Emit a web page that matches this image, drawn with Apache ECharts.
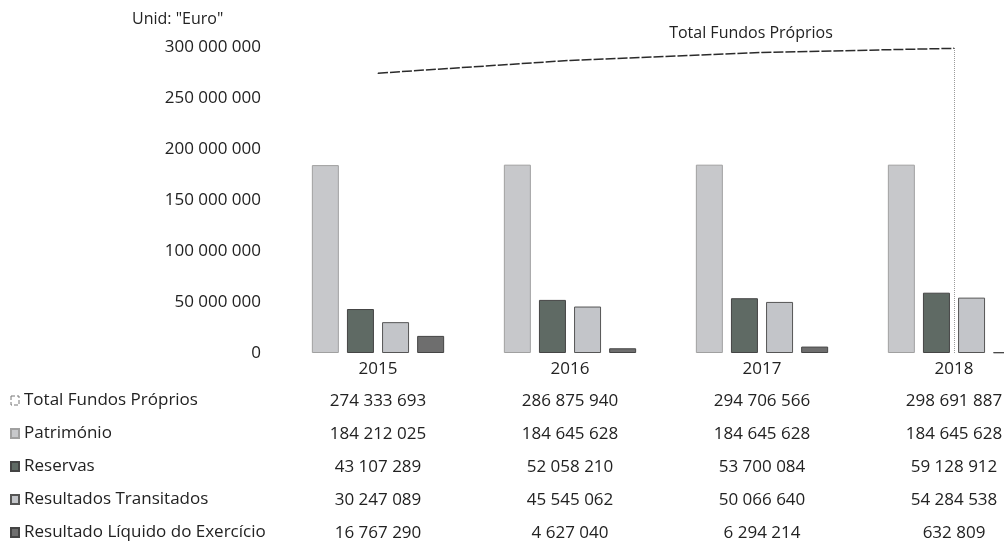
<!DOCTYPE html>
<html>
<head>
<meta charset="utf-8">
<script src="https://cdn.jsdelivr.net/npm/echarts@6/dist/echarts.min.js"></script>
<style>
html,body{margin:0;padding:0;background:#fff;}
#chart{width:1004px;height:544px;}
</style>
</head>
<body>
<div id="chart"></div>
<script>
var categories = ['2015', '2016', '2017', '2018'];
var seriesNames = ['Total Fundos Próprios', 'Património', 'Reservas', 'Resultados Transitados', 'Resultado Líquido do Exercício'];
var totalFundos = [274333693, 286875940, 294706566, 298691887];
var patrimonio = [184212025, 184645628, 184645628, 184645628];
var reservas = [43107289, 52058210, 53700084, 59128912];
var transitados = [30247089, 45545062, 50066640, 54284538];
var liquido = [16767290, 4627040, 6294214, 632809];
var yTicks = { min: 0, max: 300000000, interval: 50000000 };

var FONT = '"Open Sans", "Noto Sans", sans-serif';
var TXT = '#222';

function fmt(v) {
  return String(v).replace(/\B(?=(\d{3})+(?!\d))/g, ' ');
}

var tableRows = [totalFundos, patrimonio, reservas, transitados, liquido];
var rowOffsets = [32, 65, 98, 131, 164];

var xAxes = [{
  type: 'category',
  data: categories,
  position: 'bottom',
  axisLine: { show: false },
  axisTick: { show: false },
  splitLine: { show: false },
  axisLabel: { margin: 8, fontSize: 17, color: TXT, fontFamily: FONT, interval: 0 }
}];
tableRows.forEach(function (row, i) {
  xAxes.push({
    type: 'category',
    data: row.map(fmt),
    position: 'bottom',
    offset: rowOffsets[i],
    axisLine: { show: false },
    axisTick: { show: false },
    splitLine: { show: false },
    axisLabel: { margin: 8, fontSize: 17, color: TXT, fontFamily: FONT, interval: 0 }
  });
});

var totalData = totalFundos.map(function (v, i) {
  return i === 2 ? {
    value: v,
    label: { show: true, position: 'top', distance: 10, offset: [-11, 0], formatter: seriesNames[0],
             fontSize: 16, color: TXT, fontFamily: FONT }
  } : v;
});

var chart = echarts.init(document.getElementById('chart'), null, { renderer: 'canvas' });
chart.setOption({
  animation: false,
  backgroundColor: '#fff',
  textStyle: { fontFamily: FONT },
  title: {
    text: 'Unid: "Euro"',
    left: 127, top: 6,
    textStyle: { fontSize: 16, fontWeight: 'normal', color: TXT, fontFamily: FONT }
  },
  legend: {
    orient: 'vertical',
    left: 10, top: 391,
    padding: 0,
    height: 153,
    icon: 'rect',
    itemWidth: 8, itemHeight: 9,
    itemGap: 14,
    selectedMode: false,
    textStyle: { fontSize: 17, color: TXT, fontFamily: FONT, lineHeight: 19 },
    data: [
      { name: seriesNames[0], itemStyle: { color: '#fff', borderColor: '#777', borderWidth: 1, borderType: 'dashed' } },
      { name: seriesNames[1] },
      { name: seriesNames[2] },
      { name: seriesNames[3] },
      { name: seriesNames[4] }
    ]
  },
  grid: { left: 282, width: 768, top: 47, bottom: 191, containLabel: false, outerBoundsMode: 'none' },
  xAxis: xAxes,
  yAxis: {
    type: 'value',
    min: yTicks.min, max: yTicks.max, interval: yTicks.interval,
    axisLine: { show: false },
    axisTick: { show: false },
    splitLine: { show: false },
    axisLabel: { margin: 21, fontSize: 17, color: TXT, fontFamily: FONT, formatter: fmt }
  },
  series: [
    {
      name: seriesNames[0], type: 'line', data: totalData,
      symbol: 'circle', symbolSize: 1, showSymbol: true, z: 5,
      lineStyle: { color: '#2b2b2b', width: 1.5, type: [10, 2] },
      itemStyle: { color: '#2b2b2b' },
      markLine: {
        silent: true, symbol: 'none',
        label: { show: false },
        lineStyle: { color: '#9a9a9a', type: 'dotted', width: 1 },
        data: [{ xAxis: categories[3] }]
      }
    },
    {
      name: seriesNames[1], type: 'bar', data: patrimonio,
      barWidth: 27, barGap: '30%',
      itemStyle: { color: '#c7c8cb', borderColor: '#a0a0a0', borderWidth: 1 }
    },
    {
      name: seriesNames[2], type: 'bar', data: reservas,
      barWidth: 27, barGap: '30%',
      itemStyle: { color: '#5f6a64', borderColor: '#444', borderWidth: 1 }
    },
    {
      name: seriesNames[3], type: 'bar', data: transitados,
      barWidth: 27, barGap: '30%',
      itemStyle: { color: '#c3c5c9', borderColor: '#555', borderWidth: 1 }
    },
    {
      name: seriesNames[4], type: 'bar', data: liquido,
      barWidth: 27, barGap: '30%',
      itemStyle: { color: '#6e6e6e', borderColor: '#444', borderWidth: 1 }
    }
  ]
});
</script>
</body>
</html>
